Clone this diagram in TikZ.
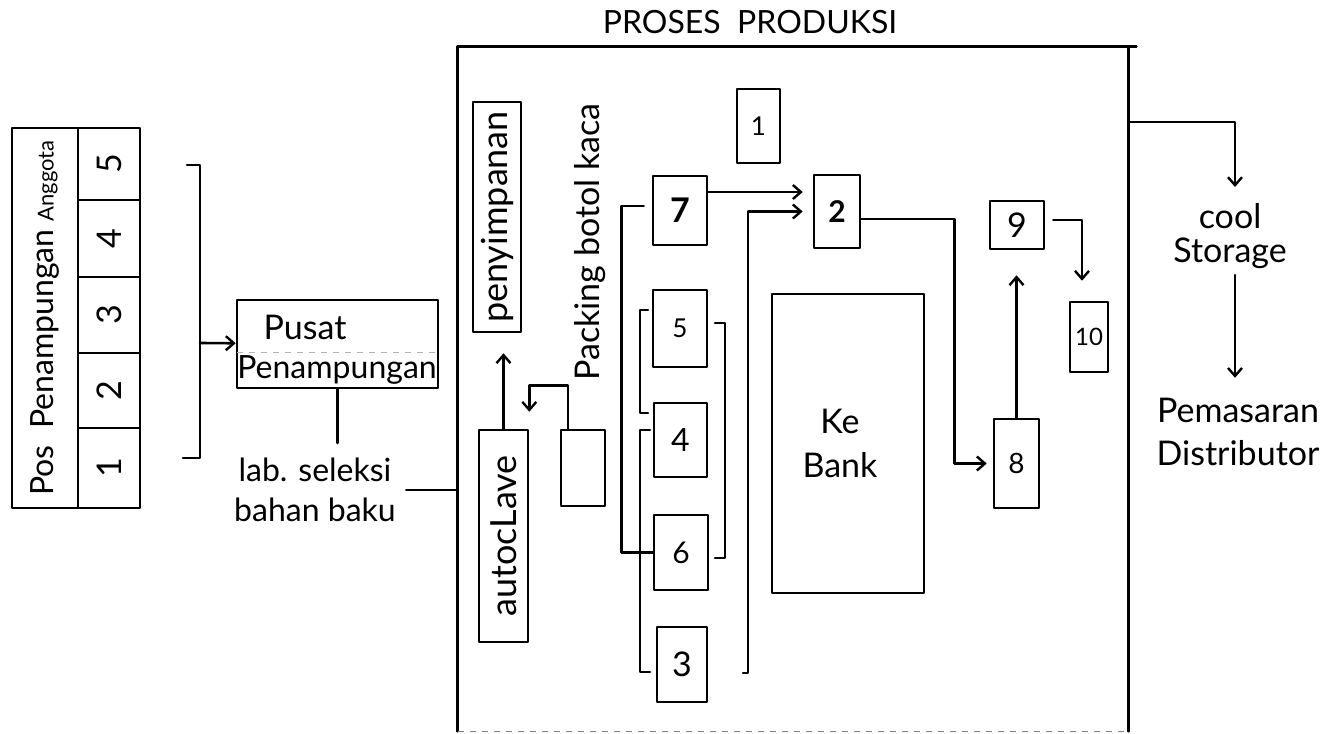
\documentclass[tikz,border=0pt]{standalone}
\usepackage{fontspec}
\setmainfont{Lato}
\usetikzlibrary{arrows.meta,fit}
\newcommand\fsz[1]{\fontsize{#1}{#1}\selectfont}
\tikzset{
  ln/.style={line width=1.3pt, line cap=round, line join=round},
  bx/.style={draw, ln, inner sep=0pt},
  arr/.style={ln, -{Straight Barb[length=4pt,width=7pt,line width=1.2pt]}},
  lbl/.style={inner sep=1pt, align=center},
  rt/.style={inner sep=0pt, rotate=90},
  num/.style={inner sep=0pt},
}
\begin{document}
\begin{tikzpicture}[x=0.5pt,y=-0.5pt]
\useasboundingbox (0,0) rectangle (1336,733);

% ---- left table ----
\node[bx, fit={(12,128)(78,508)}] (poscol) {};
\node[bx, fit={(78,128)(140,200)}] (c5) {};
\node[bx, fit={(78,200)(140,277)}] (c4) {};
\node[bx, fit={(78,277)(140,353)}] (c3) {};
\node[bx, fit={(78,353)(140,428)}] (c2) {};
\node[bx, fit={(78,428)(140,508)}] (c1) {};
\node[rt, font=\fsz{16}] (posT) at (poscol.center) {Pos\ \ Penampungan {\fsz{11}Anggota}};
\node[rt, font=\fsz{17}] at (c5.center) {5};
\node[rt, font=\fsz{17}] at (c4.center) {4};
\node[rt, font=\fsz{17}] at (c3.center) {3};
\node[rt, font=\fsz{17}] at (c2.center) {2};
\node[rt, font=\fsz{17}] at (c1.center) {1};

% bracket
\draw[ln] (187,165) -- (200,165) -- (200,458) -- (183,458);
\coordinate (br) at (200,343);

% ---- Pusat Penampungan ----
\node[bx, fit={(237,300)(438,388)}] (pusat) {};
\draw[gray!60, line width=0.5pt, dashed] (237,352) -- (438,352);
\node[lbl, font=\fsz{17}] (pusatT) at (305,327) {Pusat};
\node[lbl, font=\fsz{16}] (penT) at (337,370) {Penampungan};
\draw[arr] (br) -- (pusat);

\node[lbl, font=\fontsize{16}{20}\selectfont] (lab) at (315,490) {lab. seleksi\\bahan baku};
\coordinate (labtop) at (335,443);
\draw[ln] (pusat.south) -- (pusat.south |- labtop);

% ---- main box ----
\node[fit={(458,47)(1128,731)}, inner sep=0pt] (main) {};
\draw[ln] (main.south west) -- (main.north west) -- ([xshift=4pt]main.north east);
\draw[ln] (main.north east) -- (main.south east);
\draw[gray, line width=0.6pt, dashed] (main.south west) -- (main.south east);
\node[lbl, font=\fsz{16}] (title) at (750,22) {PROSES\ \ PRODUKSI};

\draw[ln] ([xshift=4pt]lab.east) -- (main.west |- lab.east);

% ---- inside ----
\node[bx, fit={(473,102)(521,332)}] (peny) {};
\node[rt, font=\fsz{18}] at (peny.center) {penyimpanan};
\node[bx, fit={(479,430)(528,642)}] (auto) {};
\node[rt, font=\fsz{18}] at (auto.center) {autocLave};
\node[bx, fit={(561,430)(605,506)}] (sb) {};
\node[rt, font=\fsz{17}] (pack) at (590,242) {Packing botol kaca};

\draw[arr, shorten >=10pt] (auto.north) -- (auto.north |- peny.south);
\draw[arr] ([xshift=-7.5pt]sb.north) -- ++(0,21.5pt) -| ([yshift=8.5pt]auto.north east);

\node[bx, fit={(737,89)(780,163)}, label={[num, font=\fsz{13}]center:1}] (b1) {};
\node[bx, fit={(653,176)(707,245)}, label={[num, font=\fsz{17}\bfseries]center:7}] (b7) {};
\node[bx, fit={(814,175)(860,248)}, label={[num, font=\fsz{15}\bfseries]center:2}] (b2) {};
\node[bx, fit={(653,290)(707,367)}, label={[num, font=\fsz{13}]center:5}] (b5) {};
\node[bx, fit={(654,403)(707,477)}, label={[num, font=\fsz{16}]center:4}] (b4) {};
\node[bx, fit={(654,515)(708,590)}, label={[num, font=\fsz{15}]center:6}] (b6) {};
\node[bx, fit={(657,627)(707,702)}, label={[num, font=\fsz{17}]center:3}] (b3) {};
\node[bx, fit={(772,294)(924,593)}] (bank) {};
\node[lbl, font=\fontsize{17}{22}\selectfont] (bankT) at (840,443) {Ke\\Bank};
\node[bx, fit={(994,419)(1039,508)}, label={[num, font=\fsz{14}]center:8}] (b8) {};
\node[bx, fit={(990,201)(1044,249)}, label={[num, font=\fsz{17}]center:9}] (b9) {};
\node[bx, fit={(1070,302)(1108,372)}, label={[num, font=\fsz{12}]center:10}] (b10) {};

% 7 -> 2
\coordinate (a7) at ([yshift=9.25pt]b7.east);
\draw[arr, shorten >=5pt] (a7) -- (a7 -| b2.west);
% 3 line -> 2
\coordinate (v3) at (748,673);
\draw[arr, shorten >=5pt] ([xshift=-2.5pt]v3) -- (v3) |- (b2.west);
% 7 -> 6
\coordinate (a76) at ([shift={(-4pt,2.25pt)}]b7.west);
\draw[ln] (a76) -- ++(-11pt,0) |- (b6.west);
% brackets
\draw[ln] (648,310) -- (640,310) -- (640,413) -- (648,413);
\draw[ln] (650,430) -- (640,430) -- (640,672) -- (650,672);
\draw[ln] (715,323) -- (725,323) -- (725,558) -- (715,558);
% 2 -> 8
\coordinate (a28) at ([yshift=-3.75pt]b2.east);
\draw[arr, shorten >=3pt] (a28) -- ++(46.5pt,0) |- (b8.west);
% 8 -> 9
\draw[arr, shorten >=12.5pt] (b8.north) -- (b8.north |- b9.south);
% 9 -> 10
\coordinate (a9) at ([shift={(4pt,2.5pt)}]b9.east);
\draw[arr, shorten >=10pt] (a9) -| ([xshift=-3.5pt]b10.north);

% ---- right side ----
\node[lbl, font=\fontsize{17}{17}\selectfont] (cool) at (1230,236) {cool\\Storage};
\node[lbl, font=\fontsize{17}{21.5}\selectfont] (pem) at (1238,432) {Pemasaran\\Distributor};
\coordinate (cs) at (1235,187);
\draw[arr] (main.east |- 0,122) -| (cs);
\draw[arr, shorten >=9pt, shorten <=2pt] (cool.south -| cs) -- (pem.north -| cs);
\end{tikzpicture}
\end{document}
